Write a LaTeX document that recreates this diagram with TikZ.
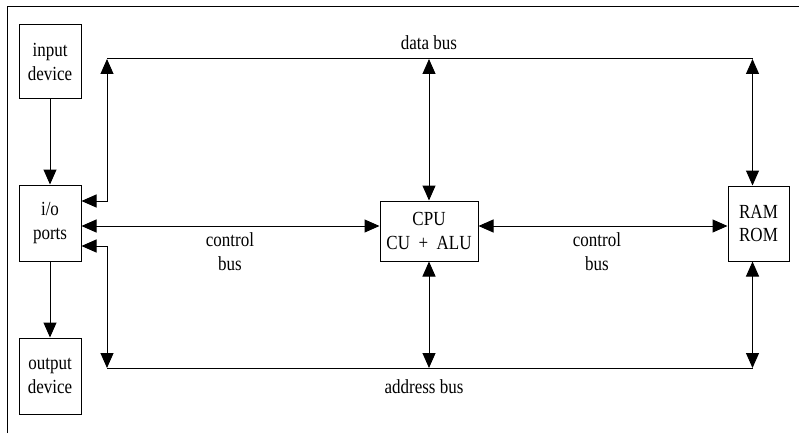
\documentclass[tikz,border=0pt]{standalone}
\usepackage{fontspec}
\setmainfont{Liberation Serif}[FakeStretch=0.85]
\usetikzlibrary{arrows.meta}

\begin{document}
\begin{tikzpicture}[x=1pt, y=-1pt, line width=1pt,
  blk/.style={draw, inner sep=0pt, align=center, font=\fontsize{20}{23.5}\selectfont},
  lbl/.style={inner sep=0pt, align=center, font=\fontsize{20}{23.5}\selectfont},
  >={Triangle[length=15pt, width=13pt]}]
\useasboundingbox (0,0) rectangle (799,433);
% frame lines
\draw (7,433) -- (7,7) -- (799,7);

% blocks
\node[blk, minimum width=62, minimum height=74] (in)  at (50,62)    {input\\device};
\node[blk, minimum width=62, minimum height=76] (io)  at (50,223)   {i/o\\ports};
\node[blk, minimum width=62, minimum height=76] (out) at (50,376)   {output\\device};
\node[blk, minimum width=98, minimum height=60] (cpu) at (429,231)  {CPU\\CU\ \ +\ \ ALU};
\node[blk, minimum width=61, minimum height=75] (ram) at (758.5,223.5) {RAM\\ROM};

% bus corners
\coordinate (dbl) at (107,59);
\coordinate (dbr) at (752.5,59);
\coordinate (abl) at (107,368);
\coordinate (abr) at (752.5,368);
\coordinate (cbl) at (0,226);

% device links
\draw[->] (in) -- (io);
\draw[->] (io) -- (out);

% data bus
\draw (dbl) -- (dbr);
\draw[<->] (dbl) |- ([yshift=22pt]io.east);
\draw[<->] (cpu.north |- dbl) -- (cpu.north);
\draw[<->] (dbr) -- (dbr |- ram.north);

% control bus
\draw[<->] (io.east |- cbl) -- (cpu.west |- cbl);
\draw[<->] (cpu.east |- cbl) -- (ram.west |- cbl);

% address bus
\draw (abl) -- (abr);
\draw[<->] ([yshift=-23pt]io.east) -| (abl);
\draw[<->] (cpu.south) -- (cpu.south |- abl);
\draw[<->] (ram.south -| abr) -- (abr);

% labels (base anchor sits on the last line)
\node[lbl, anchor=base] (ldb) at (429,50) {data bus};
\node[lbl, anchor=base] (lc1) at (230,270) {control\\bus};
\node[lbl, anchor=base] (lc2) at (597,270) {control\\bus};
\node[lbl, anchor=base] (lab) at (424,393) {address bus};
\end{tikzpicture}
\end{document}
